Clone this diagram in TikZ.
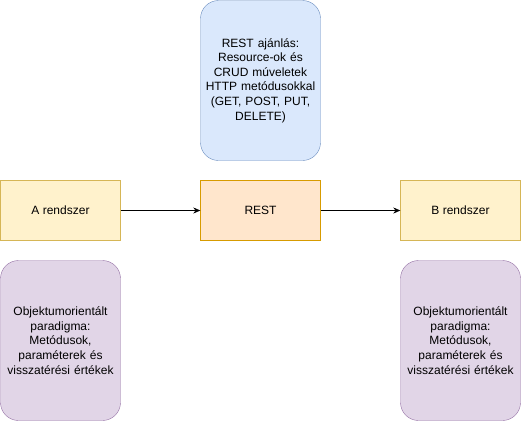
\documentclass[tikz,border=0pt]{standalone}
\usepackage{fontspec}
\setmainfont{Liberation Sans}
\usetikzlibrary{arrows.meta}
\definecolor{yelfill}{HTML}{FFF2CC}
\definecolor{yeldraw}{HTML}{D6B656}
\definecolor{orgfill}{HTML}{FFE6CC}
\definecolor{orgdraw}{HTML}{D79B00}
\definecolor{bluefill}{HTML}{DAE8FC}
\definecolor{bluedraw}{HTML}{6C8EBF}
\definecolor{purfill}{HTML}{E1D5E7}
\definecolor{purdraw}{HTML}{9673A6}
\tikzstyle{sysbox} = [draw=yeldraw, fill=yelfill, minimum width=120pt, minimum height=60pt, inner sep=0pt]
\tikzstyle{restbox} = [draw=orgdraw, fill=orgfill, minimum width=120pt, minimum height=60pt, inner sep=0pt]
\tikzstyle{notebox} = [rounded corners=18pt, minimum width=120pt, minimum height=160pt, inner sep=0pt, text width=116pt, align=center, font=\fontsize{12pt}{14.6pt}\selectfont]

\begin{document}
\begin{tikzpicture}[x=1pt, y=-1pt, font=\fontsize{12pt}{14.6pt}\selectfont]
    \useasboundingbox (0,0) rectangle (521,421);
    \draw (60.5,210.5) node[sysbox] (a) {A rendszer};
    \draw (260.5,210.5) node[restbox] (rest) {REST};
    \draw (460.5,210.5) node[sysbox] (b) {B rendszer};
    \draw (260.5,80.5) node[notebox, draw=bluedraw, fill=bluefill] (ajanlas) {REST ajánlás:\\Resource-ok és\\CRUD múveletek\\HTTP metódusokkal\\(GET, POST, PUT,\\DELETE)};
    \draw (60.5,340.5) node[notebox, draw=purdraw, fill=purfill] (oa) {Objektumorientált\\paradigma:\\Metódusok,\\paraméterek és\\visszatérési értékek};
    \draw (460.5,340.5) node[notebox, draw=purdraw, fill=purfill] (ob) {Objektumorientált\\paradigma:\\Metódusok,\\paraméterek és\\visszatérési értékek};
    \draw [-{Stealth[length=7pt,width=6pt]}] (a) -- (rest);
    \draw [-{Stealth[length=7pt,width=6pt]}] (rest) -- (b);
\end{tikzpicture}
\end{document}
